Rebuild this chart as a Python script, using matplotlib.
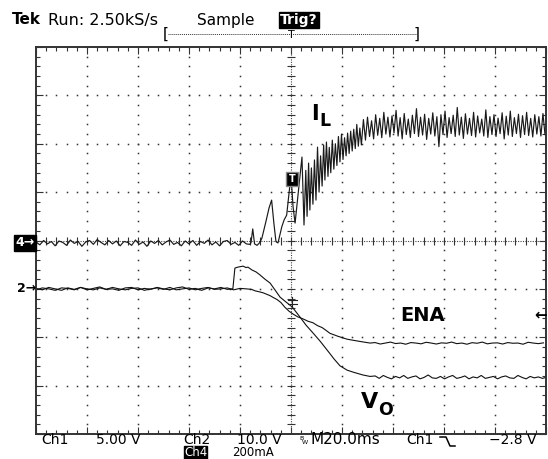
import numpy as np
import matplotlib
matplotlib.use("Agg")
import matplotlib.pyplot as plt
from matplotlib.lines import Line2D

# scope settings
MS_DIV = 20.0
CH1_VDIV = 5.0     # ENA
CH2_VDIV = 10.0    # V_O
CH4_MADIV = 200.0  # I_L
CH1_POS = -1.0
CH2_POS = -1.0
CH4_POS = -0.05
TRIG_LEVEL = -2.8

# Ch4: inductor current I_L (ms, mA)
il_base_t = [-100.0, -98.5, -97.0, -95.5, -94.0, -92.5, -91.0, -89.5, -88.0, -86.5,
             -85.0, -83.5, -82.0, -80.5, -79.0, -77.5, -76.0, -74.5, -73.0, -71.5,
             -70.0, -68.5, -67.0, -65.5, -64.0, -62.5, -61.0, -59.5, -58.0, -56.5,
             -55.0, -53.5, -52.0, -50.5, -49.0, -47.5, -46.0, -44.5, -43.0, -41.5,
             -40.0, -38.5, -37.0, -35.5, -34.0, -32.5, -31.0, -29.5, -28.0, -26.5,
             -25.0, -23.5, -22.0, -20.5, -19.0, -17.5, -16.2]
il_base_ma = [4, -8, 10, -4, 6, -12, 8, 2, -10, 12,
              -2, 6, -14, 4, 10, -6, 14, 2, -8, 10,
              -4, 8, -12, 6, 2, -10, 12, -6, 4, -14,
              8, -2, 10, -8, 4, 12, -6, 2, -12, 8,
              -4, 10, -10, 6, -2, 12, -8, 4, -12, 6,
              10, -6, 2, -10, 8, -4, -6]
il_rise_t = [-15.7, -15.0, -14.3, -13.3, -12.2, -11.4, -9.8, -8.6, -7.6, -6.7,
             -5.9, -5.1, -3.6, -2.7, -1.7, 0.0, 0.8, 1.6,
             4.3, 5.1, 5.8, 6.3, 6.9, 7.4, 8.0, 8.6, 9.2, 9.8,
             10.4, 11.0, 11.6, 12.2, 12.8, 13.3, 13.9, 14.5, 15.0, 15.6,
             16.2, 16.8, 17.4, 18.0, 18.6, 19.2, 19.8, 20.4, 21.0, 21.6,
             22.2, 22.8, 23.4, 24.0, 24.6, 25.2, 25.8, 26.4, 27.0, 27.6]
il_rise_ma = [0, 58, -4, -10, 2, 20, 90, 145, 177, 80,
              5, 0, 67, 95, 115, 281, 150, 82,
              355, 74, 300, 110, 330, 136, 310, 160, 343, 177,
              396, 210, 360, 235, 405, 260, 417, 275, 395, 290,
              425, 305, 410, 320, 440, 335, 450, 345, 435, 360,
              454, 370, 462, 380, 470, 390, 490, 400, 475, 405]
il_flat_t = [28.4, 29.2, 30.0, 30.8, 31.6, 32.4, 33.2, 34.0, 34.8, 35.6,
             36.4, 37.2, 38.0, 38.8, 39.6, 40.4, 41.2, 42.0, 42.8, 43.6,
             44.4, 45.2, 46.0, 46.8, 47.6, 48.4, 49.2, 50.0, 50.8, 51.6,
             52.4, 53.2, 54.0, 54.8, 55.6, 56.4, 57.2, 58.0, 58.8, 59.6,
             60.4, 61.2, 62.0, 62.8, 63.6, 64.4, 65.2, 66.0, 66.8, 67.6,
             68.4, 69.2, 70.0, 70.8, 71.6, 72.4, 73.2, 74.0, 74.8, 75.6,
             76.4, 77.2, 78.0, 78.8, 79.6, 80.4, 81.2, 82.0, 82.8, 83.6,
             84.4, 85.2, 86.0, 86.8, 87.6, 88.4, 89.2, 90.0, 90.8, 91.6,
             92.4, 93.2, 94.0, 94.8, 95.6, 96.4, 97.2, 98.0, 98.8, 99.6]
il_flat_ma = [510, 425, 520, 440, 505, 430, 530, 445, 515, 435,
              540, 450, 520, 438, 525, 455, 548, 442, 518, 430,
              535, 448, 512, 436, 528, 452, 555, 440, 520, 446,
              532, 428, 515, 450, 538, 442, 522, 398, 530, 448,
              545, 436, 518, 452, 528, 440, 560, 446, 520, 432,
              534, 450, 515, 444, 540, 438, 525, 455, 512, 442,
              550, 436, 522, 448, 530, 440, 516, 452, 538, 430,
              524, 446, 545, 440, 518, 452, 532, 436, 526, 448,
              540, 444, 515, 438, 530, 450, 522, 442, 535, 448]

# Ch2: output voltage V_O (ms, V)
vo_t = [-100.0, -97.5, -95.0, -92.5, -90.0, -87.5, -85.0, -82.5, -80.0, -77.5,
        -75.0, -72.5, -70.0, -67.5, -65.0, -62.5, -60.0, -57.5, -55.0, -52.5,
        -50.0, -47.5, -45.0, -42.5, -40.0, -37.5, -35.0, -32.5, -30.0, -27.5,
        -25.0, -22.8,
        -22.0, -20.8, -18.8, -17.6, -16.9, -15.3, -13.7, -12.2, -10.2, -8.2,
        -6.3, -4.3, -2.0, 0.4, 3.5, 5.9, 8.6, 11.4, 14.1, 16.9,
        19.2, 22.0, 24.3, 28.2, 31.0,
        33.0, 34.6, 36.2, 37.8, 39.4, 41.0, 42.6, 44.2, 45.8, 47.4,
        49.0, 50.6, 52.2, 53.8, 55.4, 57.0, 58.6, 60.2, 61.8, 63.4,
        65.0, 66.6, 68.2, 69.8, 71.4, 73.0, 74.6, 76.2, 77.8, 79.4,
        81.0, 82.6, 84.2, 85.8, 87.4, 89.0, 90.6, 92.2, 93.8, 95.4,
        97.0, 98.6, 100.0]
vo_v = [0.1, -0.2, 0.3, 0.0, -0.3, 0.2, -0.1, 0.3, -0.2, 0.1,
        0.4, -0.1, 0.0, -0.3, 0.2, 0.3, -0.2, 0.1, -0.1, 0.3,
        0.0, -0.2, 0.2, 0.4, -0.1, 0.1, -0.3, 0.2, 0.0, 0.3,
        -0.1, 0.0,
        4.3, 4.5, 4.7, 4.4, 4.5, 3.9, 3.5, 2.9, 2.0, 1.2,
        -0.2, -1.7, -2.7, -3.7, -5.8, -7.5, -9.1, -10.8, -12.6, -14.5,
        -15.9, -16.8, -17.2, -17.8, -18.1,
        -18.0, -18.5, -17.9, -18.3, -18.6, -18.1, -18.4, -17.9, -18.5, -18.2,
        -18.0, -18.6, -18.3, -17.8, -18.4, -18.5, -18.1, -18.6, -18.2, -17.9,
        -18.5, -18.3, -18.0, -18.6, -18.2, -18.4, -17.9, -18.5, -18.3, -18.1,
        -18.6, -18.2, -18.0, -18.4, -18.5, -17.9, -18.3, -18.6, -18.1, -18.4,
        -18.2, -18.5, -18.3]

# Ch1: enable ENA (ms, V)
ena_t = [-100.0, -97.5, -95.0, -92.5, -90.0, -87.5, -85.0, -82.5, -80.0, -77.5,
         -75.0, -72.5, -70.0, -67.5, -65.0, -62.5, -60.0, -57.5, -55.0, -52.5,
         -50.0, -47.5, -45.0, -42.5, -40.0, -37.5, -35.0, -32.5, -30.0, -27.5,
         -25.0, -22.5, -20.0, -17.5,
         -15.5, -14.1, -12.5, -11.0, -9.6, -8.2, -6.9, -5.5, -4.0, -2.4,
         -0.8, 0.8, 2.7, 4.7, 6.7, 8.6, 10.4, 12.2, 13.8, 15.3,
         16.9, 18.4, 20.2, 22.0, 24.1, 26.3, 28.6, 31.0,
         33.0, 35.0, 37.0, 39.0, 41.0, 43.0, 45.0, 47.0, 49.0, 51.0,
         53.0, 55.0, 57.0, 59.0, 61.0, 63.0, 65.0, 67.0, 69.0, 71.0,
         73.0, 75.0, 77.0, 79.0, 81.0, 83.0, 85.0, 87.0, 89.0, 91.0,
         93.0, 95.0, 97.0, 99.0]
ena_v = [-0.1, 0.1, 0.0, -0.15, 0.1, 0.05, -0.1, 0.15, 0.0, -0.1,
         0.1, -0.05, 0.15, 0.0, -0.1, 0.05, 0.1, -0.15, 0.0, 0.1,
         -0.05, 0.15, -0.1, 0.0, 0.1, -0.1, 0.05, 0.15, -0.05, 0.0,
         0.1, -0.1, 0.05, 0.0,
         -0.05, -0.2, -0.3, -0.4, -0.55, -0.7, -0.9, -1.1, -1.4, -1.9,
         -2.3, -2.6, -2.9, -3.1, -3.35, -3.5, -3.8, -4.0, -4.3, -4.6,
         -4.75, -4.9, -5.05, -5.2, -5.3, -5.4, -5.5, -5.6,
         -5.55, -5.7, -5.6, -5.5, -5.65, -5.6, -5.72, -5.55, -5.6, -5.68,
         -5.52, -5.6, -5.7, -5.58, -5.62, -5.5, -5.66, -5.6, -5.72, -5.56,
         -5.62, -5.5, -5.68, -5.6, -5.58, -5.7, -5.55, -5.62, -5.6, -5.72,
         -5.52, -5.6, -5.66, -5.58]

W, H = 548, 459
plt.rcParams['font.family'] = ['DejaVu Sans']


def fx(px):
    return px / W


def fy(py):
    return 1 - py / H


fig = plt.figure(figsize=(W / 100, H / 100), dpi=100)
fig.patch.set_facecolor('white')
ax = fig.add_axes([fx(36), fy(434), 510 / W, 387 / H])
ax.set_xlim(-5, 5)
ax.set_ylim(-4, 4)

# graticule
dot = dict(ls='none', marker='s', ms=1.1, mew=0, color='#333333')
ys_minor = np.arange(-4, 4.01, 0.2)
xs_minor = np.arange(-5, 5.01, 0.2)
for gx in range(-4, 5):
    if gx != 0:
        ax.plot([gx] * len(ys_minor), ys_minor, **dot)
for gy in range(-3, 4):
    if gy != 0:
        ax.plot(xs_minor, [gy] * len(xs_minor), **dot)
ax.plot([0, 0], [-4, 4], ls=(0, (1, 1.2)), lw=0.8, color='#444444')
ax.plot([-5, 5], [0, 0], ls=(0, (1, 1.2)), lw=0.8, color='#444444')
ax.plot([0] * len(ys_minor), ys_minor, ls='none', marker='_', ms=6, mew=0.8, color='#333333')
ax.plot(xs_minor, [0] * len(xs_minor), ls='none', marker='|', ms=6, mew=0.8, color='#333333')

ax.set_xticks(range(-5, 6))
ax.set_yticks(range(-4, 5))
ax.set_xticks(xs_minor, minor=True)
ax.set_yticks(ys_minor, minor=True)
ax.tick_params(which='both', direction='in', top=True, right=True,
               labelbottom=False, labelleft=False, width=0.8, color='#333333')
ax.tick_params(which='major', length=5)
ax.tick_params(which='minor', length=3)
for s in ax.spines.values():
    s.set_linewidth(1.4)
    s.set_color('#333333')

# traces
il_t = il_base_t + il_rise_t + il_flat_t
il_ma = il_base_ma + il_rise_ma + il_flat_ma
ax.plot(np.array(il_t) / MS_DIV, np.array(il_ma) / CH4_MADIV + CH4_POS,
        color='#1a1a1a', lw=0.85)
ax.plot(np.array(vo_t) / MS_DIV, np.array(vo_v) / CH2_VDIV + CH2_POS,
        color='#111111', lw=0.8)
ax.plot(np.array(ena_t) / MS_DIV, np.array(ena_v) / CH1_VDIV + CH1_POS,
        color='#111111', lw=0.8)

# trace labels
ax.text(0.39, 2.62, "I", fontsize=15, fontweight='bold', ha='left', va='center')
ax.text(0.55, 2.46, "L", fontsize=12.5, fontweight='bold', ha='left', va='center')
ax.text(2.14, -1.55, "ENA", fontsize=14, fontweight='bold', ha='left', va='center')
ax.text(1.37, -3.33, "V", fontsize=16, fontweight='bold', ha='left', va='center')
ax.text(1.70, -3.5, "O", fontsize=12.5, fontweight='bold', ha='left', va='center')

# header
fig.text(fx(12), fy(20), "Tek", fontsize=11, fontweight='bold', va='center')
fig.text(fx(48), fy(20), "Run: 2.50kS/s", fontsize=11.5, va='center')
fig.text(fx(197), fy(20), "Sample", fontsize=11, va='center')
fig.text(fx(280), fy(20), "Trig?", fontsize=10, fontweight='bold', va='center', color='white',
         bbox=dict(boxstyle='square,pad=0.1', fc='black', ec='black'))
fig.add_artist(Line2D([fx(168), fx(416)], [fy(34), fy(34)], ls=(0, (1, 1)), lw=0.7,
                      color='#333333', transform=fig.transFigure))
fig.text(fx(163), fy(34), "[", fontsize=11, va='center')
fig.text(fx(414), fy(34), "]", fontsize=11, va='center')
fig.text(fx(291), fy(35), "T", fontsize=8, ha='center', va='center')

# channel markers
fig.text(fx(15), fy(243), "4\u2192", fontsize=9, fontweight='bold', va='center', color='white',
         bbox=dict(boxstyle='square,pad=0.1', fc='black', ec='black'))
fig.text(fx(17), fy(289), "2\u2192", fontsize=9, fontweight='bold', va='center')
fig.text(fx(547), fy(315), "\u2190", fontsize=11, fontweight='bold', ha='right', va='center')
fig.text(fx(292), fy(179), "T", fontsize=7, fontweight='bold', ha='center', va='center',
         color='white', bbox=dict(boxstyle='square,pad=0.25', fc='black', ec='#888888'))
for seg in ([(292.5, 297), (292.5, 308)], [(288, 300), (297, 300)], [(288, 304), (297, 304)]):
    fig.add_artist(Line2D([fx(seg[0][0]), fx(seg[1][0])], [fy(seg[0][1]), fy(seg[1][1])],
                          lw=0.8, color='#222222', transform=fig.transFigure))

# footer
fs = 10
fig.text(fx(41), fy(440), "Ch1", fontsize=fs, va='center')
fig.text(fx(96), fy(440), "5.00 V", fontsize=fs, va='center')
fig.text(fx(183), fy(440), "Ch2", fontsize=fs, va='center')
fig.text(fx(237), fy(440), "10.0 V", fontsize=fs, va='center')
fig.text(fx(299), fy(438), "B", fontsize=4.5, va='center')
fig.text(fx(302), fy(442), "W", fontsize=4.5, va='center')
fig.text(fx(310), fy(440), "M20.0ms", fontsize=11, va='center')
fig.text(fx(406), fy(440), "Ch1", fontsize=fs, va='center')
fig.add_artist(Line2D([fx(440), fx(446), fx(450), fx(455)],
                      [fy(437), fy(437), fy(446), fy(446)],
                      lw=1.1, color='black', transform=fig.transFigure))
fig.text(fx(489), fy(440), "\u22122.8 V", fontsize=fs, va='center')
fig.text(fx(184), fy(453), "Ch4", fontsize=8.5, va='center', color='white',
         bbox=dict(boxstyle='square,pad=0.02', fc='black', ec='black'))
fig.text(fx(232), fy(453), "200mA", fontsize=8.5, va='center')

fig.savefig("out.png", dpi=100)
